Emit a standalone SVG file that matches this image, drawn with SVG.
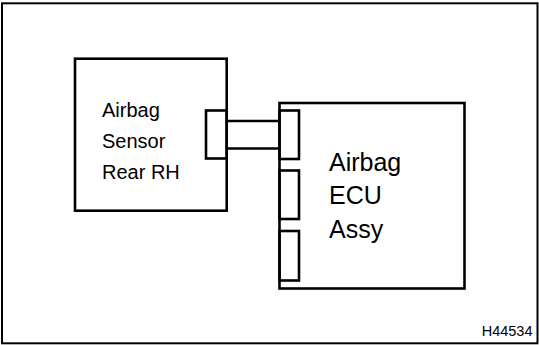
<svg xmlns="http://www.w3.org/2000/svg" width="539" height="345" viewBox="0 0 539 345">
<style>
.ln{fill:none;stroke:#000;stroke-width:2.6}
.t{font-family:"Liberation Sans",Arial,sans-serif;fill:#000}
</style>
<rect x="0" y="0" width="539" height="345" fill="#fff"/>
<rect id="frame" x="2" y="3.3" width="535.5" height="340" fill="none" stroke="#000" stroke-width="2"/>
<g id="sensor">
<rect class="ln" x="75" y="58.7" width="151.7" height="152"/>
<rect class="ln" x="206" y="110.5" width="20.7" height="48"/>
<text class="t" font-size="20" x="102" y="117">Airbag</text>
<text class="t" font-size="20" x="102" y="148">Sensor</text>
<text class="t" font-size="20" x="102" y="178.5">Rear RH</text>
</g>
<g id="ecu">
<rect class="ln" x="279.5" y="103" width="185" height="185.5"/>
<rect class="ln" x="279.5" y="110.5" width="19.5" height="48.5"/>
<rect class="ln" x="279.5" y="170.5" width="19.5" height="48.5"/>
<rect class="ln" x="279.5" y="231" width="19.5" height="49.5"/>
<text class="t" font-size="25" x="329" y="171">Airbag</text>
<text class="t" font-size="25" x="329" y="204">ECU</text>
<text class="t" font-size="25" x="329" y="238">Assy</text>
</g>
<g id="connectors">
<line class="ln" x1="226.7" y1="121" x2="279.5" y2="121"/>
<line class="ln" x1="226.7" y1="148.5" x2="279.5" y2="148.5"/>
</g>
<text class="t" font-size="14.5" x="532.5" y="336" text-anchor="end">H44534</text>
</svg>
